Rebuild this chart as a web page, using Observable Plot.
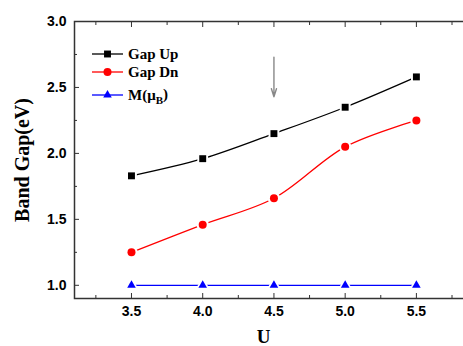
<!DOCTYPE html>
<html><head><meta charset="utf-8">
<script src="https://cdn.jsdelivr.net/npm/d3@7"></script>
<script src="https://cdn.jsdelivr.net/npm/@observablehq/plot@0.6"></script>
<style>
body{margin:0;background:#fff;}
#wrap{position:relative;width:463px;height:346px;overflow:hidden;background:#fff;}
#chart svg{max-width:none !important;}
#legend{position:absolute;left:0;top:0;pointer-events:none;}
</style></head><body><div id="wrap"><div id="chart"></div></div>
<script>
// data
const U = [3.5, 4.0, 4.5, 5.0, 5.5];
const gapUp = [1.83, 1.96, 2.15, 2.35, 2.58];
const gapDn = [1.25, 1.46, 1.66, 2.05, 2.25];
const moment = [1.0, 1.0, 1.0, 1.0, 1.0];
const seriesNames = ["Gap Up", "Gap Dn", "M(μB)"];
const seriesColors = ["#000000", "#ff0000", "#0000ff"];
const seriesSymbols = ["square", "circle", "triangle"];
const xMajor = [3.5, 4.0, 4.5, 5.0, 5.5];
const xMinor = [3.25, 3.75, 4.25, 4.75, 5.25, 5.75];
const yMajor = [1.0, 1.5, 2.0, 2.5, 3.0];
const yMinor = [1.25, 1.75, 2.25, 2.75];
const arrowX = [4.5];
const arrowFrom = [2.73];
const arrowTo = [2.43];

const seriesValues = [gapUp, gapDn, moment];
const rows = seriesValues.flatMap((vals, s) => U.map((u, i) => ({U: u, v: vals[i], s})));
const arrows = arrowX.map((x, i) => ({x, y1: arrowFrom[i], y2: arrowTo[i]}));
const symR = [3.9, 4.0, 3.2];

const marks = [
  Plot.frame({stroke: "#333", strokeWidth: 1.5}),
  Plot.axisX(xMajor, {tickSize: -5, tickFormat: () => "", label: null, stroke: "#333"}),
  Plot.axisX(xMinor, {tickSize: -3, tickFormat: () => "", label: null, stroke: "#333"}),
  Plot.axisX(xMajor, {anchor: "top", tickSize: -5, tickFormat: () => "", label: null, stroke: "#333"}),
  Plot.axisX(xMinor, {anchor: "top", tickSize: -3, tickFormat: () => "", label: null, stroke: "#333"}),
  Plot.axisX(xMajor, {tickSize: 0, tickPadding: 8, tickFormat: d3.format(".1f"), label: null}),
  Plot.axisY(yMajor, {tickSize: -5, tickFormat: () => "", label: null, stroke: "#333"}),
  Plot.axisY(yMinor, {tickSize: -3, tickFormat: () => "", label: null, stroke: "#333"}),
  Plot.axisY(yMajor, {tickSize: 0, tickPadding: 8, tickFormat: d3.format(".1f"), label: null}),
  Plot.text(["U"], {frameAnchor: "bottom", textAnchor: "middle", dx: -14, dy: 38, lineAnchor: "middle", fontFamily: "Liberation Serif, serif", fontSize: 19, fontWeight: "bold"}),
  Plot.text(["Band Gap(eV)"], {frameAnchor: "left", textAnchor: "middle", dx: -52, dy: 0, rotate: -90, lineAnchor: "middle", fontFamily: "Liberation Serif, serif", fontSize: 20, fontWeight: "bold"})
];
seriesValues.forEach((vals, s) => {
  const data = rows.filter(d => d.s === s);
  marks.push(Plot.line(data, {x: "U", y: "v", stroke: seriesColors[s], strokeWidth: 1.3, curve: "catmull-rom"}));
});
seriesValues.forEach((vals, s) => {
  const data = rows.filter(d => d.s === s);
  marks.push(Plot.dot(data, {x: "U", y: "v", symbol: seriesSymbols[s], r: symR[s] + 2.2, fill: "white"}));
  marks.push(Plot.dot(data, {x: "U", y: "v", symbol: seriesSymbols[s], r: symR[s], fill: seriesColors[s]}));
});
marks.push(Plot.arrow(arrows, {x1: "x", x2: "x", y1: "y1", y2: "y2", stroke: "#888", strokeWidth: 1.4, headLength: 9, headAngle: 35}));

const chart = Plot.plot({
  width: 480, height: 346,
  marginLeft: 74, marginRight: 0, marginTop: 21, marginBottom: 48,
  x: {domain: [3.1, 5.95]},
  y: {domain: [0.9, 3.0]},
  style: {fontFamily: "Liberation Sans, Arial, sans-serif", fontSize: "14px", fontWeight: "bold", color: "#000", background: "#fff", maxWidth: "none"},
  marks
});
chart.style.maxWidth = "none";
document.getElementById("chart").appendChild(chart);

// legend overlay
const lg = d3.select("#wrap").append("svg").attr("id", "legend").attr("width", 463).attr("height", 346);
const rowY = [54, 72, 95];
seriesNames.forEach((name, s) => {
  const g = lg.append("g").attr("transform", `translate(0,${rowY[s]})`);
  g.append("line").attr("x1", 92).attr("x2", 123).attr("y1", 0).attr("y2", 0).attr("stroke", seriesColors[s]).attr("stroke-width", 1.3);
  const sym = {square: d3.symbolSquare, circle: d3.symbolCircle, triangle: d3.symbolTriangle}[seriesSymbols[s]];
  g.append("path").attr("transform", "translate(107.5,0)").attr("d", d3.symbol(sym, Math.PI * symR[s] * symR[s])()).attr("fill", seriesColors[s]);
  const t = g.append("text").attr("x", 128).attr("y", 0).attr("dy", "0.35em")
    .attr("font-family", "Liberation Serif, serif").attr("font-weight", "bold").attr("font-size", 15).attr("fill", "#000");
  if (name === "M(μB)") {
    t.append("tspan").text("M(μ");
    t.append("tspan").attr("font-size", 11).attr("dy", "0.3em").text("B");
    t.append("tspan").attr("dy", "-0.3em").text(")");
  } else {
    t.text(name);
  }
});
</script></body></html>
